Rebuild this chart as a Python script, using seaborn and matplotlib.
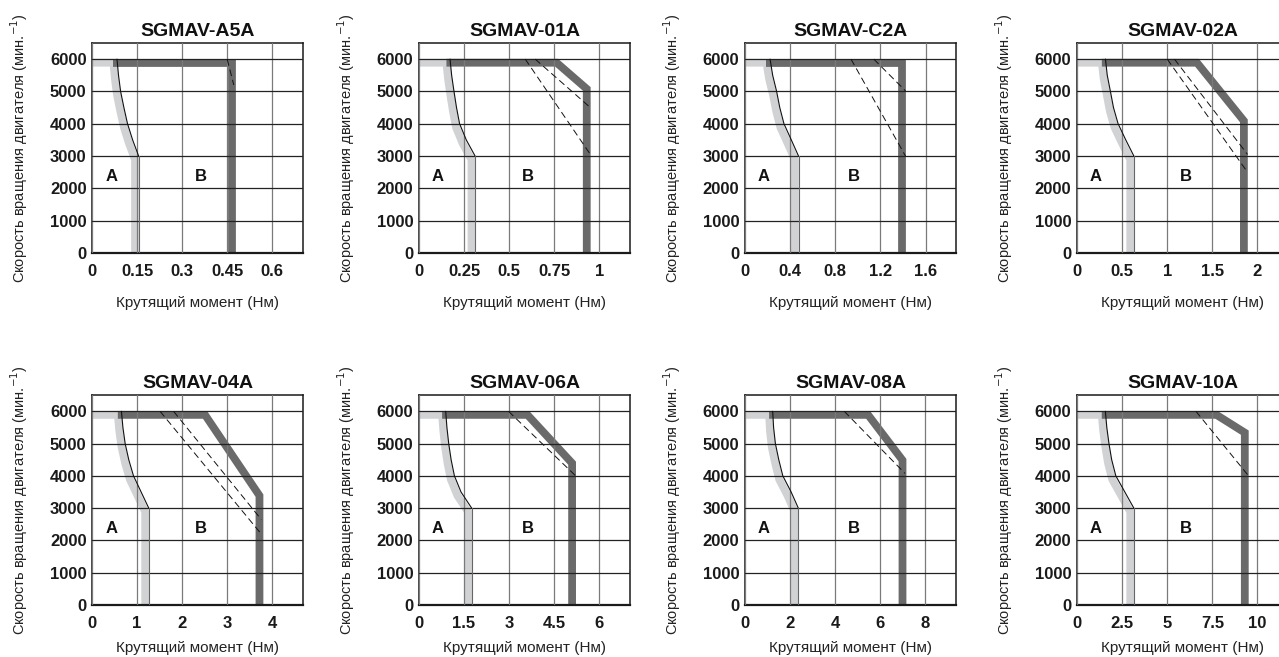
import matplotlib
matplotlib.use("Agg")
import matplotlib.pyplot as plt
import matplotlib.transforms as mtransforms
import seaborn as sns

# motor models (panel titles)
models = ['SGMAV-A5A', 'SGMAV-01A', 'SGMAV-C2A', 'SGMAV-02A',
          'SGMAV-04A', 'SGMAV-06A', 'SGMAV-08A', 'SGMAV-10A']

# x tick labels per panel (torque, N*m)
x_ticks = [
    ['0', '0.15', '0.3', '0.45', '0.6'],
    ['0', '0.25', '0.5', '0.75', '1'],
    ['0', '0.4', '0.8', '1.2', '1.6'],
    ['0', '0.5', '1', '1.5', '2'],
    ['0', '1', '2', '3', '4'],
    ['0', '1.5', '3', '4.5', '6'],
    ['0', '2', '4', '6', '8'],
    ['0', '2.5', '5', '7.5', '10'],
]
x_max = [0.703, 1.17, 1.87, 2.34, 4.69, 7.03, 9.38, 11.7]
y_ticks = [0, 1000, 2000, 3000, 4000, 5000, 6000]

# region A (continuous duty) boundary: speed points and torque per panel
a_speed = [6000, 6000, 5500, 5000, 4500, 4000, 3500, 3000, 0]
a_torque = [
    [0, 0.083, 0.088, 0.095, 0.106, 0.118, 0.135, 0.155, 0.155],
    [0, 0.172, 0.181, 0.194, 0.208, 0.225, 0.262, 0.311, 0.311],
    [0, 0.222, 0.245, 0.280, 0.308, 0.345, 0.410, 0.474, 0.474],
    [0, 0.315, 0.335, 0.370, 0.404, 0.455, 0.540, 0.630, 0.630],
    [0, 0.652, 0.685, 0.735, 0.815, 0.920, 1.090, 1.260, 1.260],
    [0, 0.889, 0.930, 0.990, 1.070, 1.180, 1.400, 1.756, 1.756],
    [0, 1.230, 1.270, 1.350, 1.500, 1.680, 2.050, 2.370, 2.370],
    [0, 1.570, 1.650, 1.770, 1.920, 2.150, 2.650, 3.150, 3.150],
]

# region B (intermittent duty) boundary
b_torque = [
    [0.083, 0.478, 0.478, 0.478],
    [0.172, 0.783, 0.950, 0.950],
    [0.222, 1.422, 1.422, 1.422],
    [0.315, 1.370, 1.890, 1.890],
    [0.652, 2.590, 3.800, 3.800],
    [0.889, 3.733, 5.220, 5.220],
    [1.230, 5.630, 7.160, 7.160],
    [1.570, 7.930, 9.500, 9.500],
]
b_speed = [
    [6000, 6000, 6000, 0],
    [6000, 6000, 5190, 0],
    [6000, 6000, 6000, 0],
    [6000, 6000, 4200, 0],
    [6000, 6000, 3500, 0],
    [6000, 6000, 4505, 0],
    [6000, 6000, 4597, 0],
    [6000, 6000, 5450, 0],
]

# dashed lines: (torque0, speed0, torque1, speed1)
dashes = [
    [(0.45, 6000, 0.472, 5200)],
    [(0.589, 6000, 0.95, 3050), (0.644, 6000, 0.95, 4500)],
    [(0.939, 6000, 1.422, 3000), (1.141, 6000, 1.422, 5017)],
    [(1.0, 6000, 1.89, 2500), (1.08, 6000, 1.89, 3050)],
    [(1.51, 6000, 3.76, 2200), (1.81, 6000, 3.76, 2650)],
    [(2.98, 6000, 5.22, 4000)],
    [(4.41, 6000, 7.11, 4077)],
    [(6.59, 6000, 9.5, 4007)],
]

sns.set_theme(style="white")
plt.rcParams['font.family'] = ['Liberation Sans', 'DejaVu Sans']

LIGHT = '#d1d2d4'
DARK = '#6a6a6a'

fig = plt.figure(figsize=(12.79, 6.57), dpi=100)
lefts = [0.072, 0.3276, 0.5825, 0.8421]
bottoms = [0.615, 0.079]
w, h = 0.165, 0.3196
# shift the thick bands inside the outer boundary
shift = mtransforms.ScaledTranslation(-0.036, -0.036, fig.dpi_scale_trans)


def band(ax, xs, ys, color, z):
    sns.lineplot(x=xs, y=ys, sort=False, estimator=None, ax=ax,
                 color=color, linewidth=5.6, zorder=z)
    ln = ax.lines[-1]
    ln.set_transform(ax.transData + shift)
    ln.set_solid_joinstyle('miter')
    ln.set_solid_capstyle('butt')


for i, model in enumerate(models):
    row, col = divmod(i, 4)
    ax = fig.add_axes([lefts[col], bottoms[row], w, h])

    band(ax, a_torque[i], a_speed, LIGHT, 1.5)
    band(ax, b_torque[i], b_speed[i], DARK, 1.6)

    # thin outline of region A
    sns.lineplot(x=a_torque[i][1:-1], y=a_speed[1:-1], sort=False, estimator=None,
                 ax=ax, color='#111111', linewidth=0.8, zorder=3)
    sns.lineplot(x=a_torque[i][-2:], y=a_speed[-2:], sort=False, estimator=None,
                 ax=ax, color='#666666', linewidth=0.8, zorder=3)

    for (x0, y0, x1, y1) in dashes[i]:
        sns.lineplot(x=[x0, x1], y=[y0, y1], sort=False, estimator=None, ax=ax,
                     color='#111111', linewidth=0.7, linestyle=(0, (7, 4)), zorder=3)

    ax.text(0.09, 0.365, 'A', transform=ax.transAxes, fontsize=12,
            fontweight='bold', ha='center', va='center', color='#111111')
    ax.text(0.515, 0.365, 'B', transform=ax.transAxes, fontsize=12,
            fontweight='bold', ha='center', va='center', color='#111111')

    ticks = [float(t) for t in x_ticks[i]]
    ax.set_xlim(0, x_max[i])
    ax.set_ylim(0, 6500)
    ax.set_xticks(ticks)
    ax.set_xticklabels(x_ticks[i])
    ax.set_yticks(y_ticks)
    ax.set_yticklabels([str(v) for v in y_ticks])
    ax.tick_params(length=0, labelsize=12, colors='#1a1a1a')
    ax.tick_params(axis='x', pad=8)
    ax.tick_params(axis='y', pad=4)
    for lab in ax.get_xticklabels() + ax.get_yticklabels():
        lab.set_fontweight('bold')

    ax.grid(True, axis='x', color='#7a7a7a', linewidth=0.9)
    ax.grid(True, axis='y', color='#222222', linewidth=0.9)
    ax.set_axisbelow(False)
    for s in ax.spines.values():
        s.set_visible(True)
        s.set_color('#1a1a1a')
        s.set_linewidth(1.1)
    ax.spines['bottom'].set_linewidth(1.6)

    ax.set_title(model, fontsize=14, fontweight='bold', pad=5, color='#111111')
    ax.set_xlabel('Крутящий момент (Нм)', fontsize=11,
                  labelpad=12 if row == 0 else 7, color='#222222')
    ax.set_ylabel('Скорость вращения двигателя (мин.$^{-1}$)', fontsize=10.5,
                  labelpad=14, color='#222222')

fig.savefig('out.png', dpi=100)
